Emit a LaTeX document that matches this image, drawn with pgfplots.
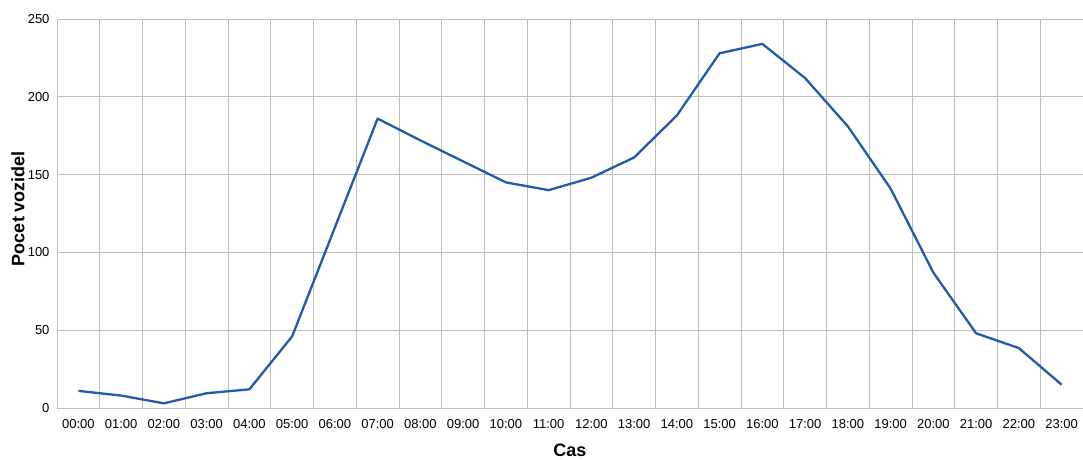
\documentclass[border=0pt]{standalone}
\usepackage{pgfplots}
\pgfplotsset{compat=1.18}
\usepackage{fontspec}
\setmainfont{Liberation Sans}
\definecolor{lineblue}{RGB}{33,92,170}
\definecolor{gridgray}{RGB}{190,190,190}
\begin{document}
\begin{tikzpicture}
\useasboundingbox (0,0) rectangle (1083pt,459pt);
\begin{axis}[
  at={(57pt,51pt)}, anchor=south west,
  scale only axis, width=1026pt, height=389pt,
  xmin=-0.5, xmax=23.5, ymin=0, ymax=250,
  xtick={0,...,23},
  xticklabels={00:00,01:00,02:00,03:00,04:00,05:00,06:00,07:00,08:00,09:00,10:00,11:00,12:00,13:00,14:00,15:00,16:00,17:00,18:00,19:00,20:00,21:00,22:00,23:00},
  minor xtick={-0.5,0.5,...,23.5},
  ytick={0,50,...,250},
  xmajorgrids=false, xminorgrids=true, ymajorgrids=true,
  minor grid style={gridgray, line width=0.9pt},
  major grid style={gridgray, line width=0.9pt},
  axis line style={draw=none},
  major tick length=0pt, minor tick length=0pt,
  tick label style={font=\fontsize{13}{15}\selectfont},
  /pgf/number format/assume math mode=true,
  yticklabel style={xshift=-4pt},
  xticklabel style={yshift=-8pt},
  xlabel={Cas},
  ylabel={Pocet vozidel},
  xlabel style={font=\fontsize{18}{20}\selectfont\bfseries, at={(axis description cs:0.5,0)}, anchor=center, yshift=-42pt},
  ylabel style={font=\fontsize{18}{20}\selectfont\bfseries, at={([xshift=-39pt,yshift=5pt]axis description cs:0,0.5)}, anchor=center},
  clip=false,
]
\addplot[lineblue, line width=2.3pt, line join=round] coordinates {
(0,11) (1,8) (2,3) (3,9.5) (4,12) (5,46) (6,116) (7,186) (8,172) (9,158.5) (10,145) (11,140) (12,148) (13,161) (14,188) (15,228) (16,234) (17,212) (18,181) (19,141) (20,87) (21,48) (22,38.5) (23,15)
};
\end{axis}
\end{tikzpicture}
\end{document}
